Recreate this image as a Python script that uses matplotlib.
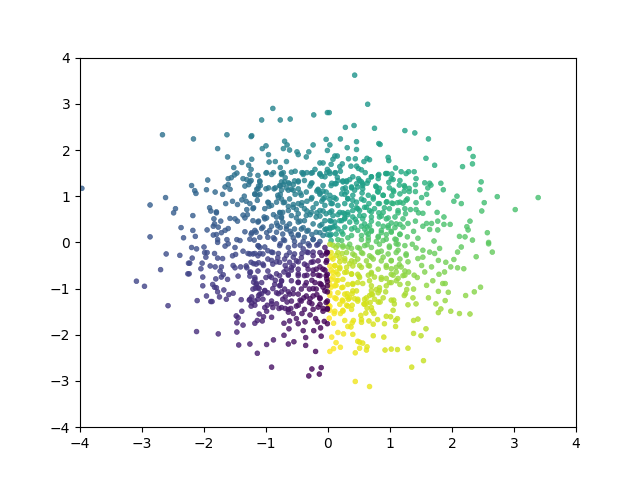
import matplotlib
matplotlib.use("Agg")
import matplotlib.pyplot as plt
import numpy as np

# points, quadrant by quadrant (x, y)
upper_right = [
    (.43,3.62),(.64,2.99),(.02,2.81),(.28,2.49),(.42,2.53),(.75,2.47),(1.24,2.42),(1.40,2.37),(1.62,2.24),(.2,2.24),
    (.46,2.18),(.03,2.11),(.82,2.14),(.84,2.12),(.31,2.05),(.46,2.01),(2.28,2.03),(2.34,1.86),(2.33,1.7),(2.17,1.64),
    (1.58,1.82),(1.72,1.67),(.97,1.84),(.98,1.77),(1.09,1.61),(1.18,1.53),(1.3,1.53),(1.39,1.53),(1.42,1.38),(1.41,1.25),
    (1.56,1.29),(1.64,1.28),(1.66,1.24),(1.61,1.18),(1.82,1.28),(1.86,1.14),(2.08,1.0),(2.03,.89),(2.15,.84),(2.47,1.31),
    (2.45,1.14),(2.73,.99),(3.39,.97),(3.02,.71),(2.52,.86),(2.48,.68),(1.76,.65),(1.87,.55),(1.77,.46),(1.87,.39),
    (1.97,.39),(2.29,.46),(2.24,.34),(2.26,.27),(2.57,.21),(2.12,.13),(2.21,.12),(2.33,.05),(1.71,.03),(2.59,0.0),
    (.11,1.87),(.15,1.87),(.08,1.8),(.33,1.81),(.44,1.81),(.63,1.82),(.67,1.79),(.58,1.75),(.05,1.69),(.23,1.7),
    (.19,1.64),(.37,1.65),(.46,1.65),(.49,1.6),(.54,1.57),(.6,1.51),(.02,1.53),(.12,1.51),(.2,1.54),(.15,1.41),
    (.7,1.42),(.82,1.47),(.93,1.49),(.96,1.49),(1.03,1.48),(.81,1.38),(.49,1.38),(.35,1.36),(.3,1.33),(.24,1.33),
    (1.05,1.36),(.98,1.3),(.54,1.31),(.63,1.28),(.56,1.23),(.46,1.27),(.06,1.28),(.13,1.27),(.28,1.18),(.38,1.18),
    (.43,1.13),(.55,1.07),(.77,1.22),(.83,1.17),(.8,1.1),(.99,1.18),(1.06,1.1),(1.15,1.24),(1.23,1.23),(1.31,1.17),
    (1.23,1.11),(1.31,1.1),(1.41,1.1),(1.03,1.01),(.89,1.02),(.73,.98),(.58,.91),(.1,.97),(.27,1.04),(.32,.95),
    (.4,.91),(.07,.84),(.03,.93),(.95,.88),(1.03,.85),(1.12,.86),(1.21,.85),(1.28,.94),(1.42,.86),(1.51,.97),
    (1.59,1.04),(1.62,.85),(.83,.84),(.66,.84),(.62,.76),(.51,.69),(.46,.75),(.7,.66),(.82,.64),(.91,.75),
    (1.13,.64),(1.25,.62),(1.33,.71),(1.42,.71),(1.53,.63),(1.46,.64),(.97,.53),(.86,.57),(.7,.46),(.58,.58),
    (.44,.5),(.32,.6),(.24,.64),(.16,.6),(.06,.68),(.27,.53),(.19,.47),(.05,.46),(.03,.32),(.11,.35),
    (.22,.23),(.43,.32),(.54,.35),(.63,.33),(.7,.24),(.89,.35),(1.02,.42),(1.08,.32),(1.16,.39),(1.29,.41),
    (1.41,.46),(1.53,.35),(1.59,.41),(1.67,.41),(1.64,.28),(1.77,.27),(1.38,.24),(1.28,.12),(1.45,.09),(1.16,.17),
    (1.02,.24),(.86,.21),(.62,.21),(.65,.1),(.54,.06),(.89,.04),(1.1,.06),(.32,.1),(.16,.06),(.05,.17),
    (.97,.32),(.81,.13),(.94,.17),
]
upper_left = [
    (-3.97,1.17),(-2.67,2.33),(-2.17,2.24),(-1.63,2.33),(-1.23,2.31),(-1.24,2.29),(-.89,2.90),(-1.07,2.65),(-.77,2.65),(-.61,2.67),
    (-.23,2.76),(-.01,2.81),(-.03,2.23),(-1.78,2.03),(-1.62,1.85),(-1.06,2.03),(-1.0,2.09),(-.96,1.90),(-.70,2.19),(-.66,2.11),
    (-.72,2.03),(-.62,2.0),(-.5,1.96),(-.48,1.9),(-.24,2.11),(-.31,1.96),(-.35,1.85),(-.01,1.99),(-1.23,1.8),(-1.39,1.73),
    (-.95,1.74),(-.85,1.75),(-.67,1.75),(-1.28,1.67),(-1.24,1.58),(-1.52,1.62),(-1.47,1.5),(-1.51,1.46),(-1.56,1.4),(-1.61,1.38),
    (-1.94,1.35),(-2.2,1.23),(-2.15,1.12),(-2.13,1.06),(-1.96,1.14),(-1.82,1.09),(-1.66,1.2),(-1.61,1.25),(-1.58,1.15),(-1.7,1.04),
    (-2.62,.97),(-2.87,.81),(-2.46,.73),(-2.49,.64),(-2.18,.58),(-2.37,.32),(-2.18,.26),(-2.87,.12),(-2.33,.1),(-2.14,.13),
    (-1.95,.27),(-1.91,.75),(-1.89,.68),(-1.8,.66),(-1.8,.64),(-1.65,.84),(-1.54,.89),(-1.46,.82),(-1.39,.92),(-1.32,.89),
    (-1.35,1.0),(-1.18,1.05),(-1.1,1.04),(-1.14,.91),(-1.31,.71),(-1.2,.75),(-1.58,.52),(-1.73,.46),(-1.84,.51),(-1.83,.4),
    (-1.3,.6),(-1.37,.59),(-1.34,.53),(-1.5,.51),(-1.46,.46),(-1.77,.33),(-1.85,.35),(-1.61,.3),(-1.66,.26),(-1.72,.21),
    (-1.8,.17),(-1.85,.16),(-1.78,.06),(-1.63,.06),(-1.47,.06),(-1.42,.04),(-1.34,.23),(-1.23,.21),(-1.18,.26),(-1.19,.05),
    (-1.07,.3),(-1.12,.46),(-1.03,.55),(-.99,.53),(-.96,.86),(-.95,.78),(-.88,.6),(-.77,.64),(-.75,.53),(-.83,.42),
    (-.91,.35),(-.99,.21),(-.88,.1),(-.77,.32),(-.67,.35),(-.61,.24),(-.72,.06),(-.56,.1),(-.48,.17),(-.4,.32),
    (-.34,.24),(-.26,.17),(-.24,.06),(-.51,.53),(-.45,.46),(-.29,.6),(-.18,.64),(-.13,.57),(-.08,.68),(-.1,.39),
    (-.05,.28),(-.13,.21),(-.01,.17),(-.77,1.04),(-.8,.97),(-.72,.86),(-.64,.78),(-.56,.82),(-.51,.71),(-.42,.86),
    (-.34,.89),(-.26,.97),(-.18,1.11),(-.13,1.07),(-.05,.97),(-.1,.89),(-.24,.75),(-.34,.68),(-.72,1.25),(-.64,1.29),
    (-.56,1.25),(-.77,1.22),(-.67,1.18),(-.59,1.15),(-.48,1.33),(-.42,1.51),(-.53,1.54),(-.77,1.62),(-.72,1.51),(-.75,1.47),
    (-.69,1.4),(-.88,1.51),(-.99,1.51),(-.96,1.18),(-.85,1.18),(-1.1,1.33),(-1.12,1.22),(-1.15,1.15),(-1.26,1.47),(-1.31,1.36),
    (-1.37,1.38),(-1.34,1.22),(-1.28,1.25),(-.25,1.51),(-.21,1.58),(-.13,1.72),(-.08,1.72),(-.13,1.47),(-.1,1.43),(-.02,1.51),
    (-.01,1.58),(-.26,1.29),(-.29,1.22),(-.16,1.15),(-.08,1.11),(-.34,1.51),(-.4,1.47),(-.45,1.07),(-.53,1.04),
]
lower_right = [
    (.44,-3.01),(.67,-3.12),(1.35,-2.7),(1.54,-2.56),(1.29,-2.29),(.92,-2.33),(1.02,-2.31),(1.12,-2.32),(.44,-2.39),(.2,-2.27),
    (.09,-2.3),(.03,-2.36),(.13,-2.17),(.06,-2.05),(.16,-1.95),(.25,-1.98),(.4,-1.99),(.73,-2.02),(.9,-2.05),(.48,-2.14),
    (.51,-2.16),(.56,-2.18),(.51,-2.29),(.63,-2.26),(.62,-2.33),(1.78,-2.11),(1.38,-1.97),(1.5,-2.02),(1.58,-1.87),(1.38,-1.69),
    (1.45,-1.66),(1.09,-1.82),(.91,-1.76),(1.09,-1.69),(1.12,-1.65),(.94,-1.6),(1.01,-1.61),(1.05,-1.47),(.8,-1.67),(.73,-1.77),
    (.66,-1.7),(.54,-1.73),(.54,-1.67),(.53,-1.58),(.41,-1.69),(.27,-1.69),(.39,-1.74),(.32,-1.82),(.37,-1.83),(.09,-1.75),
    (.02,-1.64),(.61,-1.53),(.74,-1.54),(.71,-1.48),(1.98,-1.49),(2.12,-1.54),(2.29,-1.55),(1.78,-1.52),(1.82,-1.44),(1.89,-1.26),
    (1.74,-1.33),(1.62,-1.2),(1.42,-1.33),(1.29,-1.35),(1.37,-1.2),(1.25,-1.11),(1.23,-1.15),(1.27,-1.02),(1.38,-1.01),(1.29,-.89),
    (1.78,-1.06),(1.94,-1.08),(2.22,-1.15),(2.36,-1.07),(2.46,-.97),(1.59,-.93),(1.69,-.83),(1.85,-.89),(1.89,-.89),(1.02,-.87),
    (1.16,-.91),(1.06,-1.25),(1.02,-1.25),(1.07,-1.33),(.93,-1.07),(.89,-1.2),(.83,-1.04),(.81,-1.29),(.84,-1.29),(.68,-1.3),
    (.62,-1.31),(.58,-1.33),(.63,-1.42),(.72,-1.13),(.67,-1.15),(.7,-1.04),(.78,-1.02),(.59,-1.23),(.48,-1.23),(.43,-1.22),
    (.33,-1.23),(.46,-1.05),(.39,-1.11),(.31,-1.11),(.31,-1.18),(.23,-1.25),(.3,-1.36),(.39,-1.36),(.24,-1.47),(.2,-1.54),
    (.13,-1.22),(.1,-1.54),(.03,-1.47),(.01,-1.36),(.03,-1.15),(.24,-.97),(.13,-.93),(.05,-.97),(.16,-.82),(.08,-.75),
    (.05,-.6),(.13,-.64),(.19,-.57),(.11,-.5),(.19,-.42),(.05,-.32),(.13,-.28),(.23,-.24),(.32,-.1),(.24,-.1),
    (.16,-.06),(.08,-.06),(.38,-.13),(.43,-.28),(.27,-.35),(.35,-.46),(.43,-.42),(.51,-.5),(.3,-.64),(.38,-.68),
    (.5,-.73),(.4,-.89),(.48,-.87),(.56,-.89),(.65,-.71),(.7,-.68),(.75,-.75),(.86,-.76),(.94,-.78),(1.05,-.71),
    (1.13,-.78),(1.24,-.71),(1.3,-.64),(1.39,-.71),(1.44,-.76),(.65,-.5),(.7,-.32),(.8,-.21),(.89,-.32),(.94,-.5),
    (1.02,-.39),(1.02,-.57),(1.15,-.48),(1.18,-.53),(1.1,-.64),(1.29,-.42),(1.26,-.28),(1.45,-.35),(1.53,-.32),(1.51,-.5),
    (1.56,-.64),(1.67,-.53),(1.79,-.69),(1.88,-.64),(1.78,-.39),(1.9,-.43),(1.98,-.53),(2.09,-.55),(2.19,-.57),(2.03,-.37),
    (2.09,-.21),(2.15,-.1),(2.39,-.31),(2.59,-.03),(2.65,-.21),(1.8,-.13),(1.72,-.24),(1.64,-.21),(1.53,-.17),(1.42,-.12),
    (1.36,-.04),(1.1,-.03),(1.13,-.17),(.99,-.08),(.86,-.19),(.63,-.05),(.51,-.13),(.56,-.24),
]
lower_left = [
    (-3.09,-.84),(-2.96,-.95),(-2.61,-.25),(-2.39,-.28),(-2.7,-.59),(-2.58,-1.37),(-2.12,-1.93),(-1.77,-1.98),(-2.2,-.11),(-2.12,-.14),
    (-2.0,-.1),(-2.19,-.34),(-2.25,-.45),(-2.23,-.45),(-2.26,-.68),(-2.24,-.68),(-2.05,-.57),(-2.03,-.45),(-2.02,-.75),(-2.02,-.94),
    (-1.96,-1.16),(-2.11,-1.26),(-1.89,-1.28),(-1.87,-1.28),(-1.99,-.22),(-1.95,-.22),(-1.97,-.32),(-1.83,-.24),(-1.78,-.34),(-1.7,-.35),
    (-1.9,-.51),(-1.82,-.53),(-1.72,-.53),(-1.74,-.62),(-1.69,-.7),(-1.72,-.75),(-1.81,-.79),(-1.62,-.8),(-1.86,-.91),(-1.83,-.97),
    (-1.8,-.98),(-1.78,-1.07),(-1.75,-1.18),(-1.68,-1.03),(-1.6,-1.13),(-1.53,-1.1),(-1.64,-1.23),(-1.4,-1.24),(-1.78,0.0),(-1.66,-.08),
    (-1.61,-.03),(-1.5,-.11),(-1.37,-.19),(-1.54,-.29),(-1.49,-.26),(-1.29,-.24),(-1.18,-.24),(-1.1,-.24),(-1.53,-.5),(-1.5,-.55),
    (-1.41,-.53),(-1.32,-.51),(-1.31,-.55),(-1.2,-.46),(-1.12,-.44),(-1.04,-.5),(-1.25,-.64),(-1.26,-.73),(-1.45,-.73),(-1.18,-.76),
    (-1.2,-.86),(-1.15,-.89),(-1.17,-.99),(-1.11,-1.0),(-1.02,-1.04),(-.89,-1.0),(-1.07,-1.11),(-1.12,-1.15),(-1.23,-1.18),(-1.27,-1.25),
    (-1.23,-1.31),(-1.18,-1.36),(-1.13,-1.23),(-1.39,-1.49),(-1.48,-1.59),(-1.45,-1.63),(-1.47,-1.74),(-1.37,-1.79),(-1.47,-1.94),(-1.44,-2.22),
    (-1.26,-2.2),(-1.14,-2.4),(-.99,-2.21),(-.88,-2.11),(-.91,-2.7),(-1.11,-1.55),(-1.04,-1.61),(-1.14,-1.69),(-1.18,-1.75),(-1.06,-1.7),
    (-.91,-1.62),(-.98,-1.36),(-.99,-1.49),(-.91,-1.33),(-.83,-1.33),(-.79,-1.43),(-.69,-1.43),(-.71,-1.75),(-.62,-1.7),(-.63,-1.87),
    (-.71,-2.01),(-.64,-2.2),(-.55,-2.15),(-.36,-2.23),(-.36,-2.06),(-.4,-1.91),(-.23,-1.91),(-.11,-2.03),(-.12,-1.85),(-.2,-2.36),
    (-.26,-2.74),(-.11,-2.71),(-.31,-2.89),(-.14,-2.85),(-.48,-1.76),(-.37,-1.72),(-.2,-1.65),(-.17,-1.72),(-.06,-1.71),(-.01,-1.76),
    (-.29,-1.57),(-.42,-1.54),(-.51,-1.65),(-.56,-1.54),(-.64,-1.51),(-.6,-1.43),(-.48,-1.36),(-.45,-1.25),(-.56,-1.11),(-.64,-1.07),
    (-.69,-1.18),(-.66,-1.29),(-.75,-1.07),(-.8,-1.11),(-.77,-.93),(-.75,-.84),(-.85,-.82),(-.94,-.73),(-.83,-.68),(-.71,-.64),
    (-.64,-.71),(-.59,-.6),(-.69,-.5),(-.56,-.5),(-.48,-.42),(-.83,-.42),(-.91,-.39),(-.8,-.24),(-.67,-.28),(-.56,-.32),
    (-1.02,-.1),(-1.12,-.08),(-.91,-.21),(-.77,-.03),(-.45,-.06),(-.32,-.03),(-.18,-.06),(-.34,-.21),(-.42,-.24),(-.24,-.21),
    (-.1,-.28),(-.02,-.21),(-.02,-.39),(-.24,-.42),(-.34,-.5),(-.13,-.53),(-.05,-.6),(-.24,-.6),(-.48,-.68),(-.34,-.71),
    (-.16,-.71),(-.02,-.79),(-.13,-.89),(-.26,-.82),(-.48,-.86),(-.37,-.93),(-.24,-1.0),(-.08,-.97),(-.01,-1.07),(-.18,-1.13),
    (-.29,-1.22),(-.39,-1.2),(-.26,-1.33),(-.13,-1.22),(-.16,-1.4),(-.08,-1.43),(-.01,-1.43),
]

# second pass over the dense middle
center_upper_left = [
    (-1.24,1.34),(-1.13,1.45),(-1.0,1.5),(-.91,1.47),(-.75,1.49),(-.59,1.52),(-.4,1.5),(-.27,1.5),(-.13,1.49),(-1.1,1.31),
    (-1.09,1.23),(-1.13,1.16),(-1.18,1.04),(-1.14,1.02),(-1.26,1.31),(-.75,1.31),(-.78,1.23),(-.7,1.31),(-.62,1.27),(-.54,1.33),
    (-.48,1.31),(-.38,1.34),(-.27,1.27),(-.05,1.42),(-.08,1.23),(-.16,1.13),(-.13,1.04),(-.03,1.09),(-.08,.94),(-1.0,1.16),
    (-.87,1.16),(-.75,1.13),(-.64,1.13),(-.56,1.13),(-.48,1.16),(-.35,1.09),(-.43,1.02),(-.27,.94),(-.19,.84),(-.05,.8),
    (-.13,.69),(-.03,.62),(-.81,1.02),(-.75,.94),(-.83,.87),(-.7,.87),(-.97,.87),(-.91,.8),(-1.02,.73),(-1.21,.73),
    (-1.26,.84),(-.62,.94),(-.56,.76),(-.48,.84),(-.43,.8),(-.38,.73),(-.64,.69),(-.73,.65),(-.78,.65),(-.83,.55),
    (-.75,.55),(-.59,.58),(-.48,.62),(-.35,.58),(-.27,.65),(-.19,.55),(-.05,.47),(-.13,.36),(-.03,.29),(-.24,.4),
    (-.38,.47),(-.48,.44),(-.62,.4),(-.73,.44),(-.81,.36),(-.67,.29),(-.54,.29),(-.43,.29),(-.32,.26),(-.19,.22),
    (-.08,.15),(-.24,.07),(-.38,.11),(-.48,.15),(-.59,.18),(-.73,.18),(-.83,.22),(-.94,.26),(-1.05,.33),(-1.13,.44),
    (-1.21,.47),(-1.02,.51),(-1.16,.22),(-1.24,.18),(-1.1,.11),(-.97,.11),(-.86,.07),(-.7,.04),(-.54,.02),(-.4,.02),
    (-.13,.02),(-1.26,.07),
]
center_upper_right = [
    (.03,1.49),(.11,1.5),(.16,1.34),(.24,1.31),(.3,1.31),(.4,1.42),(.51,1.34),(.56,1.27),(.65,1.34),(.7,1.42),
    (.81,1.45),(.94,1.49),(1.02,1.38),(1.16,1.34),(1.26,1.49),(.05,1.23),(.11,1.27),(.24,1.16),(.3,1.09),(.38,1.2),
    (.48,1.2),(.56,1.16),(.78,1.2),(.81,1.09),(.89,1.02),(1.05,1.13),(1.16,1.05),(1.24,1.2),(.03,1.02),(.13,.94),
    (.22,1.05),(.32,.94),(.4,1.02),(.46,.87),(.54,.94),(.65,1.02),(.73,.94),(.81,.84),(.94,.87),(1.05,.84),
    (1.16,.87),(1.26,.91),(.05,.84),(.16,.8),(.27,.84),(.38,.8),(.4,.69),(.48,.73),(.59,.76),(.67,.69),
    (.75,.73),(.89,.65),(.99,.73),(1.13,.69),(1.24,.73),(.03,.65),(.08,.58),(.19,.65),(.27,.62),(.32,.65),
    (.4,.55),(.51,.58),(.56,.51),(.7,.55),(.83,.55),(.94,.51),(1.08,.55),(1.21,.51),(.03,.47),(.11,.44),
    (.22,.47),(.27,.51),(.35,.44),(.46,.44),(.59,.4),(.67,.36),(.81,.4),(.97,.36),(1.1,.4),(1.21,.33),
    (.03,.29),(.08,.33),(.16,.29),(.27,.33),(.38,.29),(.48,.26),(.59,.29),(.7,.26),(.86,.26),(1.02,.22),
    (1.16,.18),(.03,.15),(.13,.18),(.24,.18),(.38,.15),(.54,.15),(.65,.18),(.81,.11),(.94,.07),(1.08,.07),
    (.05,.04),(.22,.04),(.65,.04),(.78,.02),
]
center_lower_left = [
    (-1.26,-.25),(-1.21,-.25),(-1.13,-.07),(-1.1,-.11),(-.97,-.18),(-.89,-.22),(-.78,-.07),(-.64,-.11),(-.54,-.07),(-.4,-.14),
    (-.3,-.07),(-.16,-.04),(-.05,-.11),(-1.13,-.29),(-1.05,-.25),(-.97,-.36),(-.81,-.33),(-.7,-.36),(-.62,-.22),(-.54,-.25),
    (-.43,-.33),(-.32,-.22),(-.24,-.29),(-.13,-.22),(-.03,-.25),(-1.24,-.43),(-1.16,-.47),(-1.05,-.47),(-.89,-.47),(-.78,-.43),
    (-.62,-.43),(-.51,-.4),(-.38,-.47),(-.27,-.43),(-.16,-.4),(-.03,-.43),(-1.26,-.65),(-1.13,-.62),(-.97,-.62),(-.67,-.58),
    (-.59,-.54),(-.48,-.58),(-.32,-.58),(-.19,-.58),(-.08,-.58),(-1.0,-.76),(-.91,-.76),(-.78,-.72),(-.64,-.69),(-.48,-.72),
    (-.38,-.72),(-.24,-.69),(-.13,-.72),(-.03,-.72),(-1.18,-.8),(-1.07,-.87),(-1.16,-.91),(-.86,-.91),(-.75,-.83),(-.59,-.83),
    (-.48,-.87),(-.35,-.87),(-.21,-.87),(-.11,-.91),(-1.21,-1.01),(-1.13,-.98),(-1.02,-1.05),(-.78,-.94),(-.7,-1.01),(-.56,-1.01),
    (-.43,-1.01),(-.3,-1.01),(-.19,-1.01),(-.05,-1.05),(-1.1,-1.12),(-.97,-1.09),(-.83,-1.09),(-.62,-1.12),(-.48,-1.12),(-.35,-1.16),
    (-.24,-1.16),(-.13,-1.2),(-1.26,-1.23),(-1.18,-1.27),(-1.05,-1.23),(-.91,-1.27),(-.73,-1.23),(-.59,-1.27),(-.43,-1.27),(-.3,-1.3),
    (-.13,-1.34),(-.03,-1.3),(-1.24,-1.38),(-1.02,-1.41),(-.89,-1.41),(-.75,-1.41),(-.64,-1.45),(-.51,-1.38),(-.38,-1.45),(-.24,-1.45),
    (-.08,-1.49),(-.01,-.22),(-.01,-.69),(-.01,-.85),(-.01,-.94),(-.01,-1.27),(-.01,-1.45),
]
center_lower_right = [
    (.03,-.04),(.13,-.11),(.24,-.07),(.35,-.04),(.48,-.11),(.59,-.07),(.7,-.11),(.83,-.04),(.99,-.11),(1.13,-.04),
    (1.24,-.07),(.05,-.22),(.16,-.22),(.3,-.22),(.4,-.25),(.54,-.22),(.67,-.29),(.81,-.22),(.97,-.25),(1.1,-.22),
    (1.26,-.25),(.08,-.36),(.19,-.33),(.27,-.4),(.38,-.4),(.48,-.36),(.62,-.4),(.73,-.36),(.86,-.4),(1.02,-.4),
    (1.16,-.36),(.03,-.51),(.11,-.51),(.19,-.54),(.3,-.54),(.4,-.51),(.54,-.54),(.67,-.51),(.81,-.58),(.94,-.54),
    (1.1,-.54),(1.24,-.62),(.08,-.65),(.16,-.69),(.27,-.65),(.38,-.69),(.48,-.69),(.7,-.65),(1.02,-.69),(1.21,-.72),
    (.05,-.8),(.13,-.83),(.24,-.8),(.4,-.91),(.51,-.76),(.67,-.83),(.86,-.8),(.99,-.87),(1.1,-.83),(.03,-.91),
    (.11,-.94),(.22,-.98),(.32,-.91),(.7,-.94),(.83,-.98),(.94,-.94),(.03,-1.09),(.16,-1.09),(.27,-1.12),(.4,-1.05),
    (.7,-1.12),(.81,-1.09),(.11,-1.2),(.24,-1.27),(.35,-1.2),(.48,-1.27),(.62,-1.2),(.75,-1.23),(.19,-1.34),(.32,-1.38),
    (.59,-1.34),(.7,-1.41),(.03,-1.38),(.11,-1.49),(.24,-1.49),(.38,-1.45),
]

points = np.array(upper_left + center_upper_left + upper_right + center_upper_right
                  + lower_right + center_lower_right + lower_left + center_lower_left)
x = points[:, 0]
y = points[:, 1]
# colour follows the angle around the origin
angle = np.arctan2(x, y)

fig, ax = plt.subplots(figsize=(6.4, 4.8), dpi=100)
ax.scatter(x, y, s=12, c=angle, cmap="viridis", vmin=-np.pi, vmax=np.pi, alpha=0.8, linewidths=0.5)
ax.set_xlim(-4, 4)
ax.set_ylim(-4, 4)
fig.savefig("out.png", dpi=100)
